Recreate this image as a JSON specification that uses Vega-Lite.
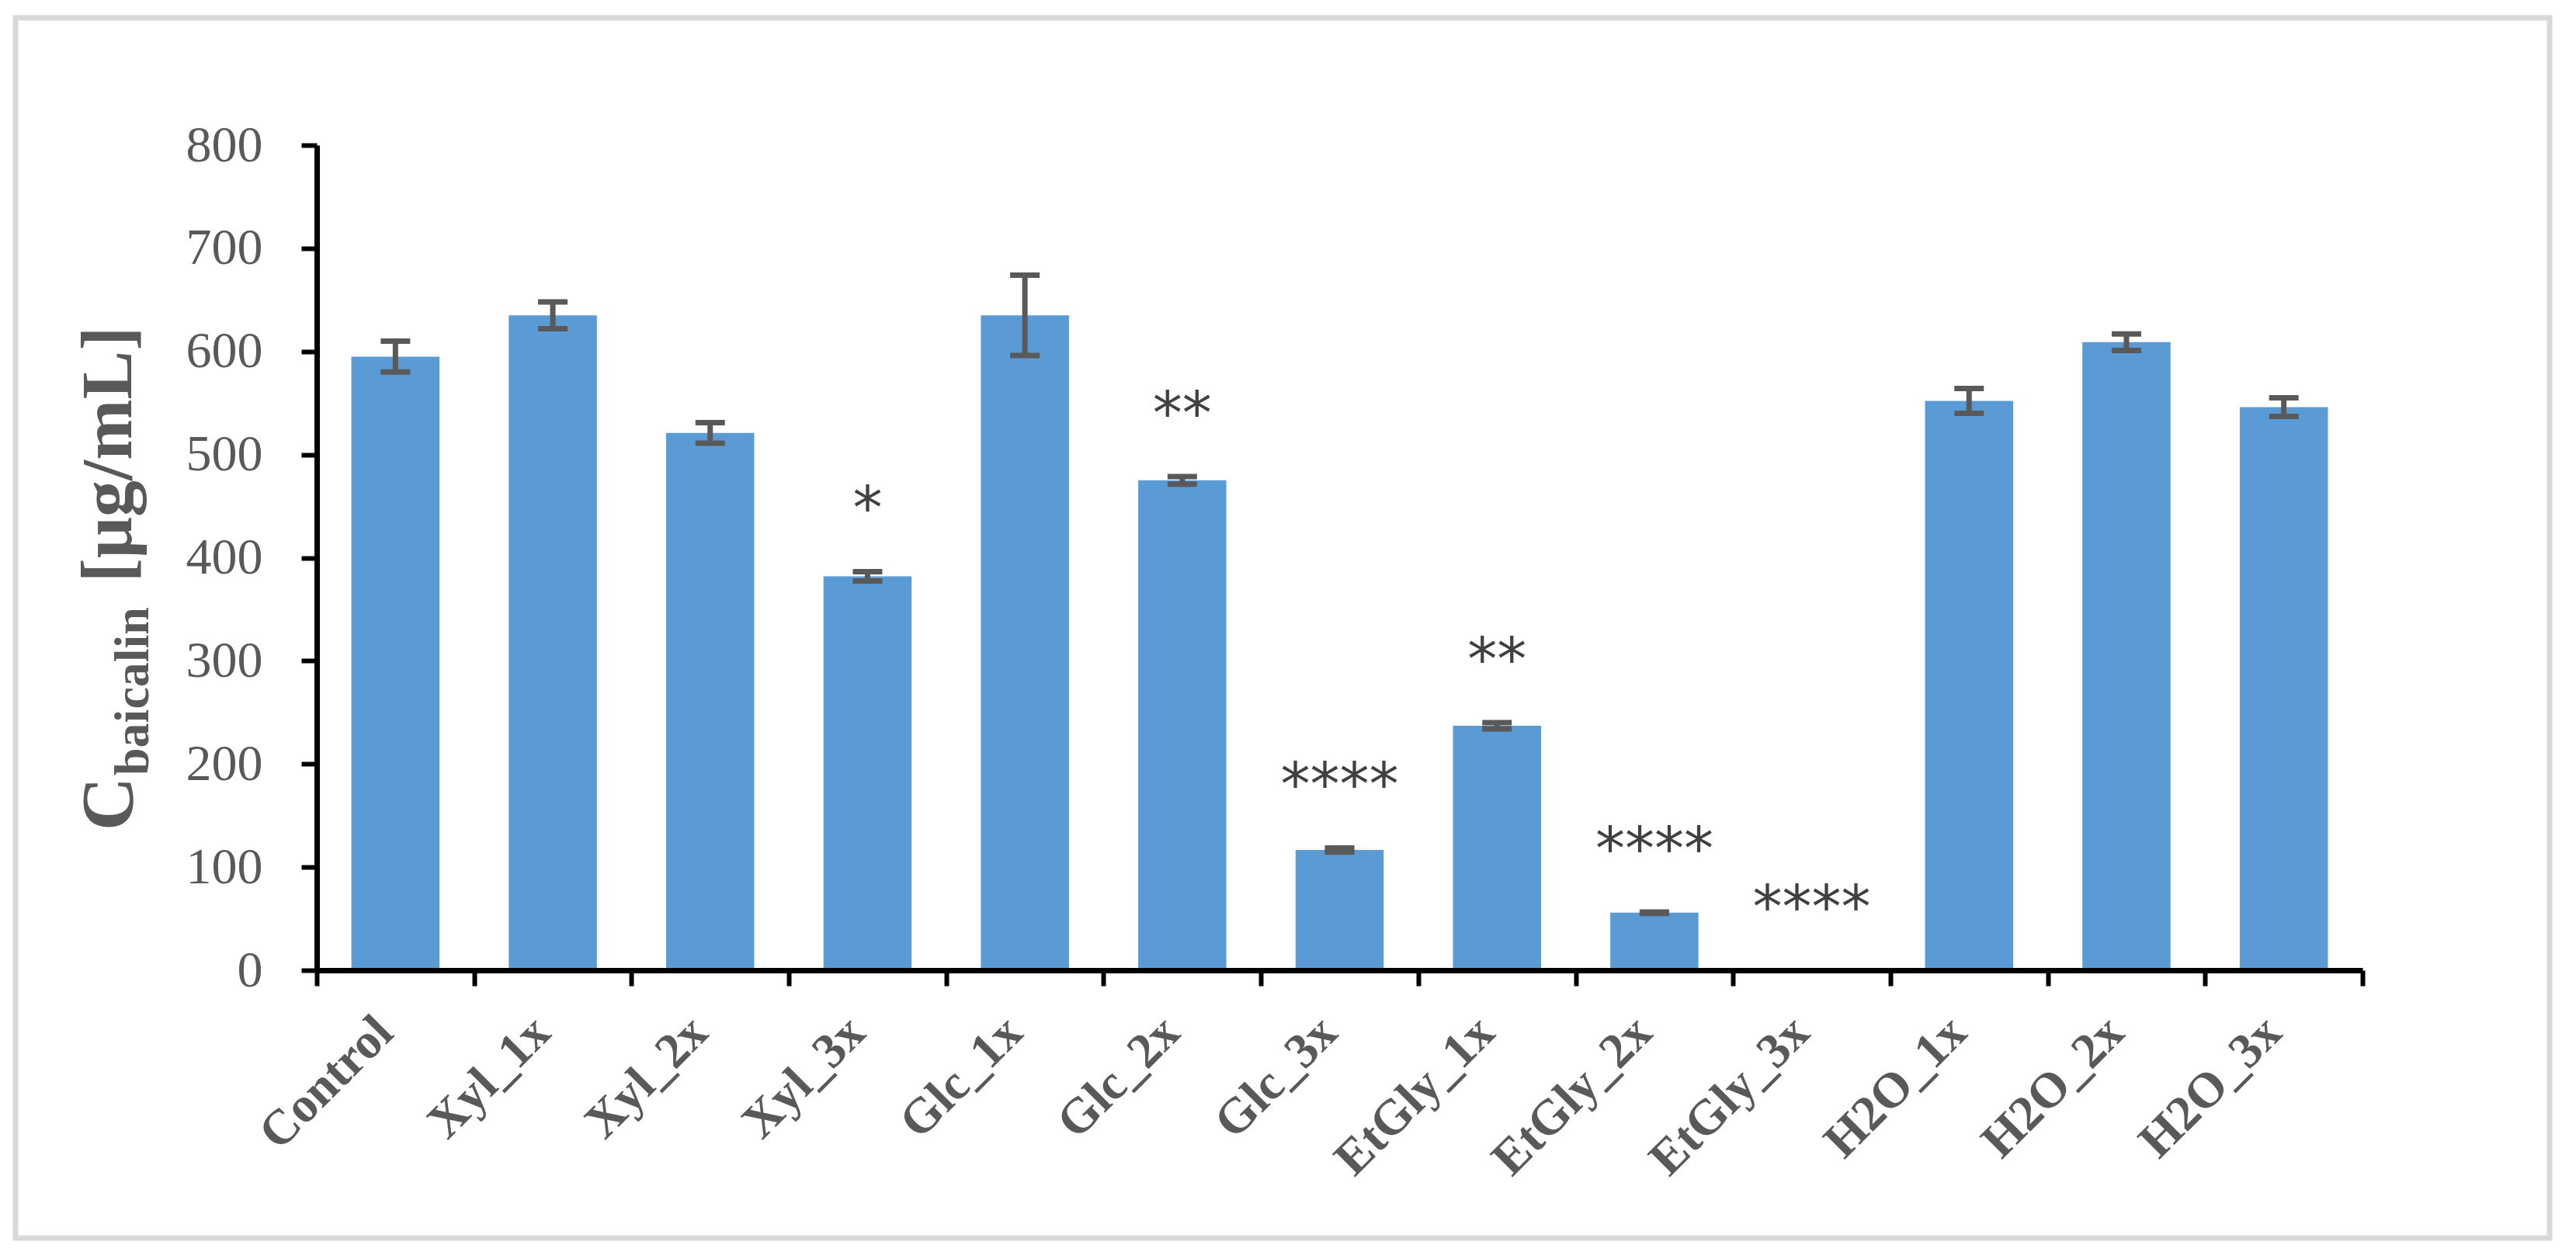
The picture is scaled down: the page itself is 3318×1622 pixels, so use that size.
{
  "$schema": "https://vega.github.io/schema/vega-lite/v6.json",
  "width": 3264,
  "height": 1572,
  "autosize": {"type": "none"},
  "padding": {"left": 20, "top": 23, "right": 34, "bottom": 27},
  "background": "white",
  "config": {"view": {"stroke": "#d9d9d9", "strokeWidth": 7, "fill": "white"}, "axis": {"grid": false}},
  "data": {"values": [
    {"group": "Control", "mean": 595, "err": 15, "lo": 580, "hi": 610, "sig": ""},
    {"group": "Xyl_1x", "mean": 635, "err": 13, "lo": 622, "hi": 648, "sig": ""},
    {"group": "Xyl_2x", "mean": 521, "err": 10, "lo": 511, "hi": 531, "sig": ""},
    {"group": "Xyl_3x", "mean": 382, "err": 4.5, "lo": 377.5, "hi": 386.5, "sig": "*"},
    {"group": "Glc_1x", "mean": 635, "err": 39, "lo": 596, "hi": 674, "sig": ""},
    {"group": "Glc_2x", "mean": 475, "err": 3.6, "lo": 471.4, "hi": 478.6, "sig": "**"},
    {"group": "Glc_3x", "mean": 116.6, "err": 2, "lo": 114.6, "hi": 118.6, "sig": "****"},
    {"group": "EtGly_1x", "mean": 237, "err": 3, "lo": 234, "hi": 240, "sig": "**"},
    {"group": "EtGly_2x", "mean": 55.8, "err": 0.6, "lo": 55.2, "hi": 56.4, "sig": "****"},
    {"group": "EtGly_3x", "mean": 0, "err": 0, "lo": 0, "hi": 0, "sig": "****"},
    {"group": "H2O_1x", "mean": 552, "err": 12, "lo": 540, "hi": 564, "sig": ""},
    {"group": "H2O_2x", "mean": 609, "err": 8, "lo": 601, "hi": 617, "sig": ""},
    {"group": "H2O_3x", "mean": 546, "err": 9, "lo": 537, "hi": 555, "sig": ""}
  ]},
  "encoding": {
    "x": {
      "field": "group", "type": "nominal", "sort": null,
      "scale": {"paddingInner": 0, "paddingOuter": 0, "range": [388, 3023]},
      "axis": {
        "title": null, "offset": -345, "labelAngle": -45, "labelFont": "Liberation Serif", "labelFontWeight": "bold",
        "labelFontSize": 64, "labelColor": "#595959", "labelPadding": 50, "labelOffset": -14, "labelLimit": 0,
        "labelAlign": "right", "labelBaseline": "middle", "tickBand": "extent",
        "tickSize": 20, "tickWidth": 6, "tickColor": "black", "domainColor": "black", "domainWidth": 7,
        "zindex": 1, "labelOverlap": false, "labelBound": false
      }
    }
  },
  "layer": [
    {
      "mark": {"type": "bar", "color": "#5b9bd5", "opacity": 1, "width": {"band": 0.56}},
      "encoding": {
        "y": {
          "field": "mean", "type": "quantitative",
          "scale": {"domain": [0, 800], "nice": false, "range": [1227, 164]},
          "axis": {
            "offset": -388,
            "values": [0, 100, 200, 300, 400, 500, 600, 700, 800],
            "labelFont": "Liberation Serif", "labelFontSize": 66, "labelColor": "#595959", "labelPadding": 50,
            "tickSize": 20, "tickWidth": 6, "tickColor": "black", "domainColor": "black", "domainWidth": 7,
            "title": "[μg/mL]", "titleFont": "Liberation Serif", "titleFontSize": 94, "titleFontWeight": "bold",
            "titleColor": "#595959", "titleX": -240, "titleY": 562, "titleAngle": -90,
            "titleAlign": "center", "titleBaseline": "alphabetic"
          }
        }
      }
    },
    {
      "transform": [{"filter": "datum.err > 0"}],
      "mark": {"type": "rule", "color": "#595959", "strokeWidth": 7, "opacity": 1},
      "encoding": {
        "y": {
          "field": "lo", "type": "quantitative",
          "axis": {
            "orient": "left", "offset": -388, "labels": false, "ticks": false, "domain": false,
            "title": "C", "titleFont": "Liberation Serif", "titleFontSize": 96, "titleFontWeight": "bold",
            "titleColor": "#595959", "titleX": -238, "titleY": 1012, "titleAngle": -90,
            "titleAlign": "center", "titleBaseline": "alphabetic"
          }
        },
        "y2": {"field": "hi"}
      }
    },
    {
      "transform": [{"filter": "datum.err > 0"}],
      "mark": {"type": "tick", "color": "#595959", "size": 38, "thickness": 7, "opacity": 1},
      "encoding": {
        "y": {
          "field": "lo", "type": "quantitative",
          "axis": {
            "orient": "left", "offset": -388, "labels": false, "ticks": false, "domain": false,
            "title": "baicalin", "titleFont": "Liberation Serif", "titleFontSize": 64, "titleFontWeight": "bold",
            "titleColor": "#595959", "titleX": -218, "titleY": 867, "titleAngle": -90,
            "titleAlign": "center", "titleBaseline": "alphabetic"
          }
        }
      }
    },
    {
      "transform": [{"filter": "datum.err > 0"}],
      "mark": {"type": "tick", "color": "#595959", "size": 38, "thickness": 7, "opacity": 1},
      "encoding": {
        "y": {"field": "hi", "type": "quantitative", "axis": null}
      }
    },
    {
      "transform": [{"filter": "datum.sig != ''"}],
      "mark": {"type": "text", "font": "DejaVu Sans", "fontSize": 76, "color": "#404040", "baseline": "alphabetic", "dy": -55},
      "encoding": {
        "y": {"field": "hi", "type": "quantitative", "axis": null},
        "text": {"field": "sig"}
      }
    }
  ],
  "resolve": {"axis": {"y": "independent"}}
}
